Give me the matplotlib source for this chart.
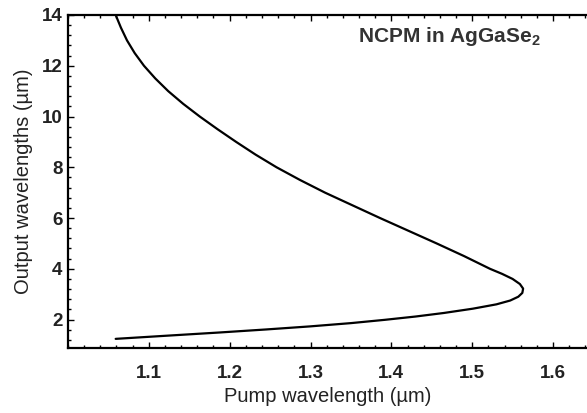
import matplotlib
matplotlib.use("Agg")
import matplotlib.pyplot as plt
from matplotlib.ticker import AutoMinorLocator

# Data: pump wavelength (um) vs output wavelength (um)
pump_um = [1.059, 1.0655, 1.073, 1.0825, 1.094, 1.108, 1.124, 1.1425, 1.163,
           1.185, 1.208, 1.232, 1.258, 1.287, 1.318, 1.352, 1.386, 1.421,
           1.456, 1.490, 1.522, 1.537, 1.550, 1.559, 1.563, 1.562, 1.557,
           1.547, 1.530, 1.501, 1.465, 1.430, 1.392, 1.350, 1.299, 1.245,
           1.187, 1.120, 1.059]
output_um = [14.0, 13.5, 13.0, 12.5, 12.0, 11.5, 11.0, 10.5, 10.0,
             9.5, 9.0, 8.5, 8.0, 7.5, 7.0, 6.5, 6.0, 5.5,
             5.0, 4.5, 4.0, 3.8, 3.6, 3.4, 3.22, 3.05, 2.90,
             2.75, 2.60, 2.43, 2.26, 2.12, 1.99, 1.86, 1.73, 1.61,
             1.49, 1.36, 1.24]

x_ticks = [1.1, 1.2, 1.3, 1.4, 1.5, 1.6]
y_ticks = [2, 4, 6, 8, 10, 12, 14]

plt.rcParams['font.family'] = ['Liberation Sans', 'DejaVu Sans']

fig = plt.figure(figsize=(5.87, 4.13), dpi=100)
ax = fig.add_axes([0.1158, 0.1574, 0.8842, 0.8063])

ax.plot(pump_um, output_um, color='black', lw=1.6, solid_joinstyle='round',
        solid_capstyle='round')

ax.set_xlim(1.0, 1.642)
ax.set_ylim(0.88, 14.0)
ax.set_xticks(x_ticks)
ax.set_yticks(y_ticks)
ax.xaxis.set_minor_locator(AutoMinorLocator(5))
ax.yaxis.set_minor_locator(AutoMinorLocator(5))
ax.tick_params(which='both', direction='in', top=True, right=False,
               labelsize=13.5, width=1.0)
ax.tick_params(which='major', length=4)
ax.tick_params(which='minor', length=2)
ax.tick_params(axis='x', which='major', pad=12)
ax.tick_params(axis='y', which='major', pad=4)
for lab in ax.get_xticklabels() + ax.get_yticklabels():
    lab.set_fontweight('bold')
    lab.set_color('#222222')

ax.spines['right'].set_visible(False)
for s in ['left', 'bottom', 'top']:
    ax.spines[s].set_linewidth(1.6)

ax.set_xlabel('Pump wavelength (µm)', fontsize=14.5, color='#222222', labelpad=4)
ax.set_ylabel('Output wavelengths (µm)', fontsize=14.5, color='#222222', labelpad=6)

ax.text(0.5588, 0.97, r'NCPM in AgGaSe$_\mathregular{2}$', transform=ax.transAxes,
        fontsize=15, fontweight='bold', color='#333333', ha='left', va='top')

fig.savefig('out.png', dpi=100)
